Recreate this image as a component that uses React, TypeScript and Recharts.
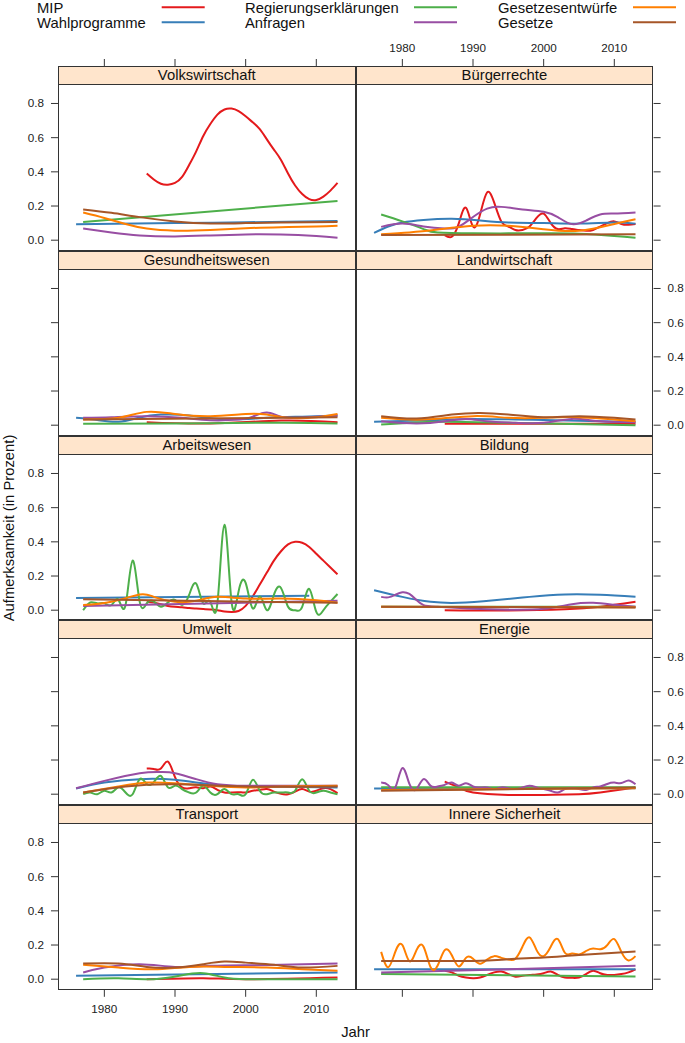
import React from 'react';
import { LineChart, Line, XAxis, YAxis } from 'recharts';

type Pts = [number, number][];
type PanelData = Record<string, Pts>;

const SERIES = ['MIP', 'Wahlprogramme', 'Regierungserklärungen', 'Anfragen', 'Gesetzesentwürfe', 'Gesetze'];
const COLORS = ['#E41A1C', '#377EB8', '#4DAF4A', '#984EA3', '#FF7F00', '#A65628'];
const X_TICKS = [1980, 1990, 2000, 2010];
const Y_TICKS = [0, 0.2, 0.4, 0.6, 0.8];

const volkswirtschaft: PanelData = {
  MIP: [[1986, 0.39], [1987, 0.355], [1988, 0.33], [1989, 0.325], [1990, 0.335], [1991, 0.37], [1992, 0.44], [1993, 0.52], [1994, 0.61], [1995, 0.68], [1996, 0.735], [1997, 0.765], [1998, 0.77], [1999, 0.755], [2000, 0.725], [2001, 0.69], [2002, 0.65], [2003, 0.59], [2004, 0.53], [2005, 0.47], [2006, 0.39], [2007, 0.32], [2008, 0.27], [2009, 0.24], [2010, 0.235], [2011, 0.255], [2012, 0.29], [2013, 0.335]],
  Wahlprogramme: [[1976, 0.094], [1990, 0.1], [2000, 0.105], [2013, 0.112]],
  Regierungserklärungen: [[1977, 0.107], [2013, 0.23]],
  Anfragen: [[1977, 0.068], [1981, 0.045], [1985, 0.028], [1990, 0.022], [1995, 0.028], [2000, 0.034], [2005, 0.033], [2010, 0.024], [2013, 0.015]],
  Gesetzesentwürfe: [[1977, 0.162], [1980, 0.13], [1983, 0.095], [1986, 0.068], [1990, 0.056], [1995, 0.06], [2000, 0.07], [2005, 0.076], [2010, 0.08], [2013, 0.084]],
  Gesetze: [[1977, 0.18], [1981, 0.16], [1985, 0.135], [1990, 0.11], [1995, 0.098], [2000, 0.1], [2005, 0.103], [2013, 0.107]],
};

const buergerrechte: PanelData = {
  MIP: [[1986, 0.03], [1987, 0.02], [1988, 0.1], [1989, 0.19], [1990, 0.08], [1991, 0.15], [1992, 0.28], [1993, 0.22], [1994, 0.11], [1995, 0.08], [1996, 0.06], [1997, 0.06], [1998, 0.08], [1999, 0.13], [2000, 0.155], [2001, 0.1], [2002, 0.065], [2003, 0.07], [2004, 0.065], [2005, 0.06], [2006, 0.055], [2007, 0.06], [2008, 0.08], [2009, 0.1], [2010, 0.11], [2011, 0.095], [2012, 0.09], [2013, 0.095]],
  Wahlprogramme: [[1976, 0.043], [1978, 0.08], [1980, 0.103], [1983, 0.118], [1987, 0.125], [1991, 0.115], [1995, 0.103], [2000, 0.1], [2005, 0.097], [2010, 0.103], [2013, 0.097]],
  Regierungserklärungen: [[1977, 0.15], [1980, 0.11], [1983, 0.065], [1985, 0.045], [1990, 0.04], [1995, 0.04], [2000, 0.04], [2005, 0.038], [2010, 0.025], [2013, 0.014]],
  Anfragen: [[1977, 0.078], [1980, 0.097], [1983, 0.08], [1986, 0.068], [1988, 0.08], [1990, 0.136], [1992, 0.185], [1994, 0.195], [1997, 0.18], [2000, 0.166], [2002, 0.135], [2004, 0.094], [2006, 0.115], [2008, 0.15], [2010, 0.156], [2013, 0.162]],
  Gesetzesentwürfe: [[1977, 0.035], [1981, 0.045], [1985, 0.062], [1990, 0.084], [1995, 0.084], [2000, 0.064], [2005, 0.055], [2010, 0.095], [2013, 0.123]],
  Gesetze: [[1977, 0.03], [2013, 0.035]],
};

const gesundheitswesen: PanelData = {
  MIP: [[1986, 0.018], [1995, 0.01], [2005, 0.027], [2013, 0.018]],
  Wahlprogramme: [[1976, 0.043], [1979, 0.03], [1982, 0.02], [1985, 0.045], [1988, 0.062], [1992, 0.057], [1997, 0.035], [2003, 0.043], [2008, 0.05], [2013, 0.057]],
  Regierungserklärungen: [[1977, 0.008], [1990, 0.01], [2005, 0.015], [2013, 0.01]],
  Anfragen: [[1977, 0.043], [1981, 0.047], [1986, 0.053], [1991, 0.043], [1995, 0.029], [1999, 0.033], [2001, 0.05], [2003, 0.075], [2005, 0.05], [2008, 0.045], [2013, 0.057]],
  Gesetzesentwürfe: [[1977, 0.033], [1982, 0.043], [1986, 0.078], [1990, 0.066], [1995, 0.053], [2000, 0.066], [2003, 0.062], [2006, 0.043], [2010, 0.047], [2013, 0.066]],
  Gesetze: [[1977, 0.033], [2013, 0.047]],
};

const landwirtschaft: PanelData = {
  MIP: [[1986, 0.008], [2013, 0.008]],
  Wahlprogramme: [[1976, 0.02], [1985, 0.03], [1990, 0.037], [2000, 0.03], [2013, 0.018]],
  Regierungserklärungen: [[1977, 0.004], [1985, 0.02], [1995, 0.014], [2013, 0.0]],
  Anfragen: [[1977, 0.023], [1982, 0.01], [1986, 0.023], [1989, 0.037], [1992, 0.023], [1996, 0.014], [2000, 0.014], [2004, 0.037], [2008, 0.023], [2013, 0.018]],
  Gesetzesentwürfe: [[1977, 0.043], [1983, 0.033], [1990, 0.053], [1995, 0.043], [2000, 0.043], [2005, 0.047], [2013, 0.023]],
  Gesetze: [[1977, 0.053], [1982, 0.039], [1987, 0.062], [1991, 0.072], [1995, 0.062], [2000, 0.047], [2005, 0.053], [2010, 0.043], [2013, 0.033]],
};

const arbeitswesen: PanelData = {
  MIP: [[1986, 0.05], [1987, 0.045], [1988, 0.035], [1989, 0.025], [1990, 0.02], [1991, 0.017], [1992, 0.013], [1993, 0.01], [1994, 0.007], [1995, 0.004], [1996, 0.0], [1997, -0.008], [1998, -0.01], [1999, -0.005], [2000, 0.025], [2001, 0.08], [2002, 0.15], [2003, 0.22], [2004, 0.29], [2005, 0.345], [2006, 0.385], [2007, 0.4], [2008, 0.395], [2009, 0.37], [2010, 0.33], [2011, 0.29], [2012, 0.25], [2013, 0.21]],
  Wahlprogramme: [[1976, 0.072], [2009, 0.084]],
  Regierungserklärungen: [[1977, 0.0], [1978, 0.045], [1979, 0.04], [1980, 0.04], [1981, 0.03], [1982, 0.06], [1983, 0.03], [1984, 0.29], [1985, 0.05], [1986, 0.04], [1987, 0.05], [1988, 0.02], [1989, 0.045], [1990, 0.06], [1991, 0.03], [1992, 0.09], [1993, 0.155], [1994, 0.04], [1995, 0.05], [1996, 0.04], [1997, 0.5], [1998, 0.05], [1999, 0.11], [2000, 0.16], [2001, 0.01], [2002, 0.08], [2003, 0.0], [2004, 0.09], [2005, 0.13], [2006, 0.02], [2007, 0.0], [2008, 0.02], [2009, 0.125], [2010, -0.01], [2011, 0.0], [2012, 0.05], [2013, 0.095]],
  Anfragen: [[1977, 0.025], [2013, 0.055]],
  Gesetzesentwürfe: [[1977, 0.03], [1981, 0.049], [1985, 0.092], [1987, 0.078], [1990, 0.049], [1993, 0.055], [1996, 0.078], [2000, 0.068], [2005, 0.068], [2010, 0.058], [2013, 0.043]],
  Gesetze: [[1977, 0.064], [2013, 0.043]],
};

const bildung: PanelData = {
  MIP: [[1986, 0.0], [1995, -0.002], [2003, 0.005], [2008, 0.02], [2013, 0.049]],
  Wahlprogramme: [[1976, 0.117], [1980, 0.078], [1984, 0.049], [1988, 0.043], [1993, 0.058], [1998, 0.078], [2003, 0.092], [2008, 0.09], [2013, 0.078]],
  Regierungserklärungen: [[1977, 0.02], [2013, 0.02]],
  Anfragen: [[1977, 0.078], [1978, 0.075], [1979, 0.09], [1980, 0.105], [1981, 0.095], [1982, 0.06], [1983, 0.03], [1985, 0.02], [1990, 0.008], [1995, 0.003], [2000, 0.008], [2004, 0.035], [2007, 0.043], [2010, 0.032], [2013, 0.02]],
  Gesetzesentwürfe: [[1977, 0.02], [2013, 0.018]],
  Gesetze: [[1977, 0.02], [2013, 0.016]],
};

const umwelt: PanelData = {
  MIP: [[1986, 0.15], [1987, 0.148], [1988, 0.15], [1989, 0.19], [1990, 0.1], [1991, 0.04], [1992, 0.035], [1993, 0.04], [1994, 0.035], [1995, 0.045], [1996, 0.025], [1997, 0.01], [1998, 0.01], [1999, 0.012], [2000, 0.01], [2001, 0.02], [2002, 0.025], [2003, 0.03], [2004, 0.015], [2005, 0.002], [2006, 0.0], [2007, 0.015], [2008, 0.03], [2009, 0.015], [2010, 0.02], [2011, 0.035], [2012, 0.03], [2013, 0.006]],
  Wahlprogramme: [[1976, 0.033], [1980, 0.068], [1985, 0.088], [1990, 0.084], [1995, 0.058], [2000, 0.043], [2005, 0.043], [2013, 0.039]],
  Regierungserklärungen: [[1977, 0.0], [1978, 0.01], [1979, 0.0], [1980, 0.02], [1981, 0.01], [1982, 0.04], [1983, 0.01], [1984, 0.0], [1985, 0.088], [1986, 0.06], [1987, 0.07], [1988, 0.107], [1989, 0.04], [1990, 0.05], [1991, 0.03], [1992, 0.01], [1993, 0.01], [1994, 0.049], [1995, 0.01], [1996, 0.0], [1997, 0.03], [1998, 0.0], [1999, 0.0], [2000, 0.0], [2001, 0.084], [2002, 0.02], [2003, 0.0], [2004, 0.01], [2005, 0.01], [2006, 0.01], [2007, 0.02], [2008, 0.088], [2009, 0.02], [2010, 0.01], [2011, 0.02], [2012, 0.01], [2013, 0.0]],
  Anfragen: [[1976, 0.035], [1980, 0.078], [1985, 0.123], [1988, 0.13], [1990, 0.123], [1993, 0.088], [1996, 0.058], [2000, 0.049], [2005, 0.05], [2013, 0.049]],
  Gesetzesentwürfe: [[1977, 0.01], [1982, 0.045], [1986, 0.068], [1990, 0.064], [1995, 0.049], [2000, 0.039], [2005, 0.045], [2013, 0.049]],
  Gesetze: [[1977, 0.01], [1983, 0.045], [1990, 0.058], [2000, 0.045], [2013, 0.045]],
};

const energie: PanelData = {
  MIP: [[1986, 0.074], [1988, 0.039], [1990, 0.01], [1995, -0.004], [2000, -0.004], [2005, 0.0], [2008, 0.01], [2013, 0.039]],
  Wahlprogramme: [[1976, 0.033], [2013, 0.035]],
  Regierungserklärungen: [[1977, 0.04], [2013, 0.04]],
  Anfragen: [[1977, 0.068], [1978, 0.053], [1979, 0.039], [1980, 0.152], [1981, 0.06], [1982, 0.03], [1983, 0.088], [1984, 0.049], [1985, 0.045], [1986, 0.055], [1987, 0.068], [1988, 0.05], [1989, 0.064], [1990, 0.045], [1991, 0.039], [1992, 0.04], [1993, 0.03], [1994, 0.04], [1995, 0.035], [1996, 0.03], [1997, 0.04], [1998, 0.049], [1999, 0.04], [2000, 0.03], [2001, 0.02], [2002, 0.01], [2003, 0.03], [2004, 0.035], [2005, 0.03], [2006, 0.025], [2007, 0.04], [2008, 0.045], [2009, 0.06], [2010, 0.068], [2011, 0.065], [2012, 0.08], [2013, 0.058]],
  Gesetzesentwürfe: [[1977, 0.025], [2013, 0.035]],
  Gesetze: [[1977, 0.02], [2013, 0.039]],
};

const transport: PanelData = {
  MIP: [[1986, 0.0], [1994, 0.006], [2000, 0.0], [2013, 0.01]],
  Wahlprogramme: [[1976, 0.02], [2013, 0.039]],
  Regierungserklärungen: [[1977, 0.0], [1982, 0.005], [1987, 0.0], [1991, 0.023], [1994, 0.035], [1997, 0.01], [2000, 0.0], [2005, 0.0], [2013, 0.0]],
  Anfragen: [[1977, 0.039], [1980, 0.068], [1985, 0.088], [1990, 0.072], [1995, 0.078], [2000, 0.082], [2005, 0.084], [2013, 0.092]],
  Gesetzesentwürfe: [[1977, 0.084], [1982, 0.068], [1987, 0.058], [1992, 0.072], [1997, 0.072], [2003, 0.068], [2008, 0.058], [2013, 0.049]],
  Gesetze: [[1977, 0.092], [1982, 0.092], [1986, 0.072], [1990, 0.068], [1994, 0.088], [1997, 0.103], [2000, 0.097], [2004, 0.084], [2008, 0.068], [2013, 0.078]],
};

const innereSicherheit: PanelData = {
  MIP: [[1986, 0.049], [1987, 0.04], [1988, 0.02], [1989, 0.01], [1990, 0.006], [1991, 0.01], [1992, 0.025], [1993, 0.04], [1994, 0.045], [1995, 0.03], [1996, 0.015], [1997, 0.02], [1998, 0.025], [1999, 0.028], [2000, 0.035], [2001, 0.045], [2002, 0.025], [2003, 0.01], [2004, 0.008], [2005, 0.01], [2006, 0.03], [2007, 0.049], [2008, 0.035], [2009, 0.025], [2010, 0.025], [2011, 0.03], [2012, 0.04], [2013, 0.058]],
  Wahlprogramme: [[1976, 0.058], [2013, 0.058]],
  Regierungserklärungen: [[1977, 0.03], [2013, 0.016]],
  Anfragen: [[1977, 0.039], [2013, 0.078]],
  Gesetzesentwürfe: [[1977, 0.16], [1978, 0.07], [1979, 0.16], [1980, 0.2], [1981, 0.105], [1982, 0.17], [1983, 0.19], [1984, 0.07], [1985, 0.08], [1986, 0.17], [1987, 0.14], [1988, 0.075], [1989, 0.125], [1990, 0.12], [1991, 0.09], [1992, 0.115], [1993, 0.135], [1994, 0.125], [1995, 0.115], [1996, 0.12], [1997, 0.19], [1998, 0.245], [1999, 0.17], [2000, 0.135], [2001, 0.19], [2002, 0.235], [2003, 0.155], [2004, 0.15], [2005, 0.145], [2006, 0.165], [2007, 0.18], [2008, 0.175], [2009, 0.2], [2010, 0.235], [2011, 0.16], [2012, 0.11], [2013, 0.135]],
  Gesetze: [[1977, 0.107], [1990, 0.107], [1995, 0.117], [2000, 0.127], [2005, 0.142], [2013, 0.162]],
};

// row by row, left panel then right panel
const PANELS: { title: string; data: PanelData }[] = [
  { title: 'Volkswirtschaft', data: volkswirtschaft },
  { title: 'Bürgerrechte', data: buergerrechte },
  { title: 'Gesundheitswesen', data: gesundheitswesen },
  { title: 'Landwirtschaft', data: landwirtschaft },
  { title: 'Arbeitswesen', data: arbeitswesen },
  { title: 'Bildung', data: bildung },
  { title: 'Umwelt', data: umwelt },
  { title: 'Energie', data: energie },
  { title: 'Transport', data: transport },
  { title: 'Innere Sicherheit', data: innereSicherheit },
];

const FONT = '"Liberation Sans", Arial, Helvetica, sans-serif';
const X_DOMAIN: [number, number] = [1973.44, 2015.56];
const Y_DOMAIN: [number, number] = [-0.062, 0.914];
const LEFT = 58;
const TOP = 66;
const PANEL_W = 297.6;
const PANEL_H = 184.8;
const STRIP_H = 18;
const PAD = 60;
const AXIS = 30; // room the axes take inside PAD
const TICK = 7;
const BORDER = '#333';

function AxisTick(props: any) {
  const { x, y, payload, side, show, shift } = props;
  const v = payload.value;
  const label = side === 'left' || side === 'right' ? Number(v).toFixed(1) : String(v);
  const txt = { fontSize: 11.7, fontFamily: FONT, fill: '#222' };
  if (side === 'top') {
    const yy = y - shift;
    return (
      <g>
        <line x1={x} x2={x} y1={yy} y2={yy - TICK} stroke={BORDER} />
        {show && <text x={x} y={yy - TICK - 7} textAnchor="middle" {...txt}>{label}</text>}
      </g>
    );
  }
  if (side === 'bottom') {
    return (
      <g>
        <line x1={x} x2={x} y1={y} y2={y + TICK} stroke={BORDER} />
        {show && <text x={x} y={y + TICK + 16} textAnchor="middle" {...txt}>{label}</text>}
      </g>
    );
  }
  if (side === 'left') {
    return (
      <g>
        <line x1={x} x2={x - TICK} y1={y} y2={y} stroke={BORDER} />
        {show && <text x={x - TICK - 7} y={y + 4} textAnchor="end" {...txt}>{label}</text>}
      </g>
    );
  }
  return (
    <g>
      <line x1={x} x2={x + TICK} y1={y} y2={y} stroke={BORDER} />
      {show && <text x={x + TICK + 7} y={y + 4} textAnchor="start" {...txt}>{label}</text>}
    </g>
  );
}

function Panel({ title, data, col, row }: { title: string; data: PanelData; col: number; row: number }) {
  const x0 = LEFT + col * PANEL_W;
  const y0 = TOP + row * PANEL_H;
  const plotTop = y0 + STRIP_H;
  const plotH = PANEL_H - STRIP_H;
  const ySide = col === 0 ? 'left' : 'right';
  const yLabels = col === 0 ? row % 2 === 0 : row % 2 === 1;
  const xSide = row === 0 ? 'top' : 'bottom';
  const xShown = row === 0 || row === 4;
  const xLabels = (row === 0 && col === 1) || (row === 4 && col === 0);

  const margin = {
    top: row === 0 ? PAD - AXIS : PAD,
    bottom: row === 4 ? PAD - AXIS : PAD,
    left: col === 0 ? PAD - AXIS : PAD,
    right: col === 1 ? PAD - AXIS : PAD,
  };

  return (
    <>
      <div style={{ position: 'absolute', left: x0 - PAD, top: plotTop - PAD }}>
        <LineChart width={PANEL_W + 2 * PAD} height={plotH + 2 * PAD} margin={margin}>
          <XAxis
            type="number"
            dataKey="x"
            domain={X_DOMAIN}
            ticks={X_TICKS}
            interval={0}
            allowDataOverflow
            hide={!xShown}
            orientation={xSide}
            height={AXIS}
            axisLine={false}
            tickLine={false}
            tickSize={0}
            tickMargin={0}
            tick={(p: any) => <AxisTick {...p} side={xSide} show={xLabels} shift={row === 0 ? STRIP_H : 0} />}
          />
          <YAxis
            type="number"
            dataKey="y"
            domain={Y_DOMAIN}
            ticks={Y_TICKS}
            interval={0}
            allowDataOverflow
            orientation={ySide}
            width={AXIS}
            axisLine={false}
            tickLine={false}
            tickSize={0}
            tickMargin={0}
            tick={(p: any) => <AxisTick {...p} side={ySide} show={yLabels} shift={0} />}
          />
          {SERIES.map((s, i) => (
            <Line
              key={s}
              name={s}
              data={data[s].map(([x, y]) => ({ x, y }))}
              dataKey="y"
              type="natural"
              stroke={COLORS[i]}
              strokeWidth={2}
              dot={false}
              activeDot={false}
              isAnimationActive={false}
            />
          ))}
        </LineChart>
      </div>
      <div
        style={{
          position: 'absolute',
          left: x0,
          top: y0,
          width: PANEL_W,
          height: PANEL_H,
          border: `1px solid ${BORDER}`,
          boxSizing: 'border-box',
          pointerEvents: 'none',
        }}
      >
        <div
          style={{
            height: STRIP_H,
            background: '#FFE5CC',
            borderBottom: `1px solid ${BORDER}`,
            boxSizing: 'border-box',
            textAlign: 'center',
            fontSize: 14.8,
            lineHeight: `${STRIP_H - 1}px`,
            color: '#111',
          }}
        >
          {title}
        </div>
      </div>
    </>
  );
}

const LEGEND_POS = [
  { tx: 37, lx: 161.7, ty: 12.7, ly: 7.3 },
  { tx: 37, lx: 161.7, ty: 27.7, ly: 22.3 },
  { tx: 245, lx: 414, ty: 12.7, ly: 7.3 },
  { tx: 245, lx: 414, ty: 27.7, ly: 22.3 },
  { tx: 498, lx: 633, ty: 12.7, ly: 7.3 },
  { tx: 498, lx: 633, ty: 27.7, ly: 22.3 },
];

export default function App() {
  return (
    <div
      style={{
        position: 'absolute',
        left: 0,
        top: 0,
        width: 685,
        height: 1043,
        background: '#fff',
        fontFamily: FONT,
        overflow: 'hidden',
      }}
    >
      <svg width={685} height={1043} style={{ position: 'absolute', left: 0, top: 0 }}>
        {SERIES.map((s, i) => (
          <g key={s}>
            <text x={LEGEND_POS[i].tx} y={LEGEND_POS[i].ty} fontSize={14.8} fontFamily={FONT} fill="#111">
              {s}
            </text>
            <line
              x1={LEGEND_POS[i].lx}
              x2={LEGEND_POS[i].lx + 43}
              y1={LEGEND_POS[i].ly}
              y2={LEGEND_POS[i].ly}
              stroke={COLORS[i]}
              strokeWidth={2}
            />
          </g>
        ))}
        <text
          x={0}
          y={0}
          transform={`translate(14, ${TOP + 2.5 * PANEL_H}) rotate(-90)`}
          textAnchor="middle"
          fontSize={14.8}
          fontFamily={FONT}
          fill="#111"
        >
          Aufmerksamkeit (in Prozent)
        </text>
        <text x={LEFT + PANEL_W} y={1037} textAnchor="middle" fontSize={14.8} fontFamily={FONT} fill="#111">
          Jahr
        </text>
      </svg>
      {PANELS.map((p, i) => (
        <Panel key={p.title} title={p.title} data={p.data} col={i % 2} row={Math.floor(i / 2)} />
      ))}
    </div>
  );
}
